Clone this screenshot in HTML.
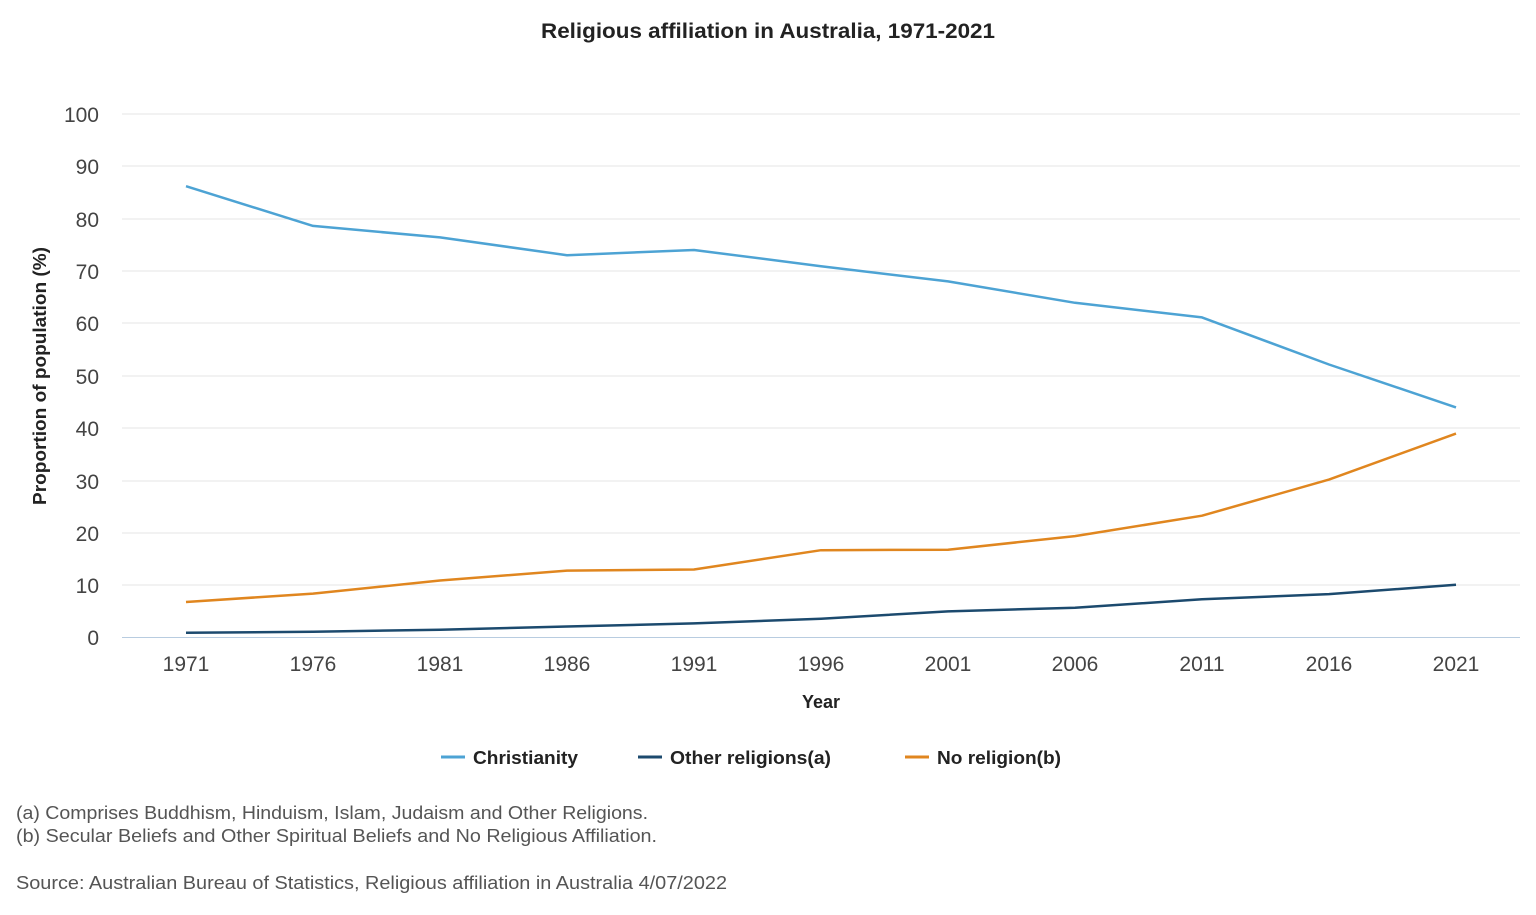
<!DOCTYPE html>
<html><head><meta charset="utf-8"><style>
html,body{margin:0;padding:0;background:#fff;}
svg{display:block;font-family:"Liberation Sans",sans-serif;}
</style></head><body>
<svg width="1536" height="915" viewBox="0 0 1536 915" xmlns="http://www.w3.org/2000/svg">
<text x="541" y="38" textLength="454" lengthAdjust="spacingAndGlyphs" font-size="21" font-weight="bold" fill="#222">Religious affiliation in Australia, 1971-2021</text>
<g stroke="#e4e4e4" stroke-width="1">
<line x1="122" x2="1520" y1="114" y2="114"/><line x1="122" x2="1520" y1="166" y2="166"/>
<line x1="122" x2="1520" y1="219" y2="219"/><line x1="122" x2="1520" y1="271" y2="271"/>
<line x1="122" x2="1520" y1="323" y2="323"/><line x1="122" x2="1520" y1="376" y2="376"/>
<line x1="122" x2="1520" y1="428" y2="428"/><line x1="122" x2="1520" y1="481" y2="481"/>
<line x1="122" x2="1520" y1="533" y2="533"/><line x1="122" x2="1520" y1="585" y2="585"/>
</g>
<line x1="122" x2="1520" y1="637.5" y2="637.5" stroke="#b8cce0" stroke-width="1"/>
<g font-size="21" fill="#444" text-anchor="end">
<text x="99" y="122">100</text><text x="99" y="174">90</text><text x="99" y="227">80</text>
<text x="99" y="279">70</text><text x="99" y="331">60</text><text x="99" y="384">50</text>
<text x="99" y="436">40</text><text x="99" y="489">30</text><text x="99" y="541">20</text>
<text x="99" y="593">10</text><text x="99" y="645">0</text>
</g>
<g font-size="21" fill="#444" text-anchor="middle">
<text x="186" y="671">1971</text><text x="313" y="671">1976</text><text x="440" y="671">1981</text>
<text x="567" y="671">1986</text><text x="694" y="671">1991</text><text x="821" y="671">1996</text>
<text x="948" y="671">2001</text><text x="1075" y="671">2006</text><text x="1202" y="671">2011</text>
<text x="1329" y="671">2016</text><text x="1456" y="671">2021</text>
</g>
<text x="821" y="708" text-anchor="middle" font-size="18" font-weight="bold" fill="#222">Year</text>
<text transform="translate(46,376) rotate(-90)" text-anchor="middle" font-size="18" font-weight="bold" fill="#222" textLength="258" lengthAdjust="spacingAndGlyphs">Proportion of population (%)</text>
<g fill="none" stroke-width="2.5" stroke-linejoin="round">
<polyline stroke="#4da3d4" points="186,186.2 313,225.9 440,237.4 567,255.2 694,250 821,266.2 948,281.4 1075,302.8 1202,317.4 1329,364.5 1456,407.4"/>
<polyline stroke="#1c4a6e" points="186,632.8 313,631.8 440,629.7 567,626.5 694,623.4 821,618.7 948,611.4 1075,607.7 1202,599.3 1329,594.1 1456,584.7"/>
<polyline stroke="#e0861f" points="186,602 313,593.6 440,580.5 567,570.6 694,569.5 821,550.2 948,549.7 1075,536.1 1202,515.7 1329,479.6 1456,433.6"/>
</g>
<g stroke-width="3">
<line x1="441" x2="465" y1="757" y2="757" stroke="#4da3d4"/>
<line x1="638" x2="662" y1="757" y2="757" stroke="#1c4a6e"/>
<line x1="905" x2="929" y1="757" y2="757" stroke="#e0861f"/>
</g>
<g font-size="18" font-weight="bold" fill="#222">
<text x="473" y="764" textLength="105" lengthAdjust="spacingAndGlyphs">Christianity</text>
<text x="670" y="764" textLength="161" lengthAdjust="spacingAndGlyphs">Other religions(a)</text>
<text x="937" y="764" textLength="124" lengthAdjust="spacingAndGlyphs">No religion(b)</text>
</g>
<g font-size="18" fill="#555">
<text x="16" y="819" textLength="632" lengthAdjust="spacingAndGlyphs">(a) Comprises Buddhism, Hinduism, Islam, Judaism and Other Religions.</text>
<text x="16" y="842" textLength="641" lengthAdjust="spacingAndGlyphs">(b) Secular Beliefs and Other Spiritual Beliefs and No Religious Affiliation.</text>
<text x="16" y="889" textLength="711" lengthAdjust="spacingAndGlyphs">Source: Australian Bureau of Statistics, Religious affiliation in Australia 4/07/2022</text>
</g>
</svg>
</body></html>
